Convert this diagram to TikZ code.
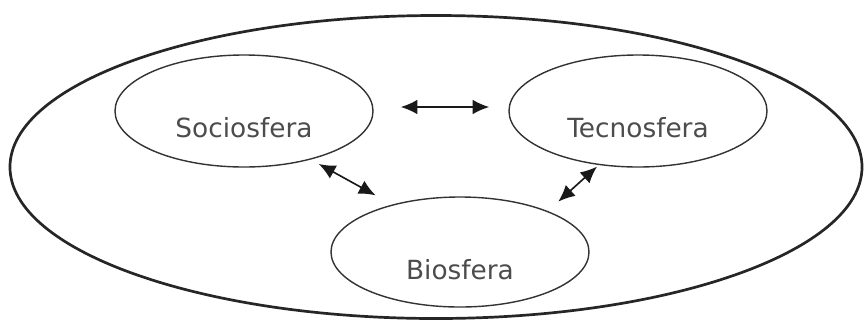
\documentclass[tikz,border=0pt]{standalone}
\usepackage{fontspec}
\setmainfont{DejaVu Sans}
\usetikzlibrary{shapes.geometric}
\usetikzlibrary{arrows.meta}

\begin{document}
\begin{tikzpicture}[x=0.03cm,y=-0.03cm,
		sfera/.style={ellipse,draw=black!80,line width=1.2pt,minimum width=7.74cm,minimum height=3.36cm},
		nome/.style={text=black!70,font=\fontsize{22.5}{26}\selectfont},
		freccia/.style={{Latex[length=0.5cm,width=0.44cm]}-{Latex[length=0.5cm,width=0.44cm]},line width=1.4pt,draw=black!90}]
				\useasboundingbox (0,0) rectangle (866,322);
				\node (M) at (436,167) [ellipse,draw=black!85,line width=2.3pt,minimum width=25.56cm,minimum height=9.09cm] {};
				\node (S) at (244,111) [sfera] {};
				\node (T) at (638,111) [sfera] {};
				\node (B) at (460,252) [sfera,minimum height=3.3cm] {};
				\node (nS) at (S) [nome,yshift=-0.51cm] {Sociosfera};
				\node (nT) at (T) [nome,yshift=-0.51cm] {Tecnosfera};
				\node (nB) at (B) [nome,yshift=-0.54cm] {Biosfera};
				\draw[freccia, shorten <=0.81cm, shorten >=0.57cm, transform canvas={yshift=0.12cm}] (S.east) -- (T.west);
				\draw[freccia, shorten <=0.27cm, shorten >=0.57cm] (S.-36.7) -- (B.145);
				\draw[freccia, shorten <=0.42cm, shorten >=0.07cm] (B.25) -- (T.-126.3);
			\end{tikzpicture}
\end{document}
